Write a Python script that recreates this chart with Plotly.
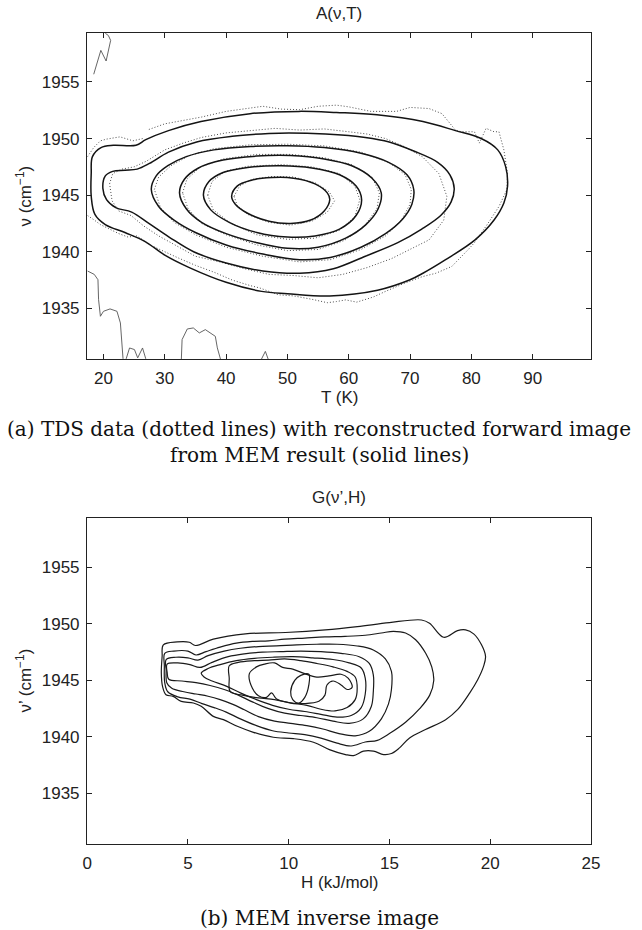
import plotly.graph_objects as go

# ---------------- data: top panel A(nu,T) ----------------
top_x_ticks = [20, 30, 40, 50, 60, 70, 80, 90]
top_y_ticks = [1935, 1940, 1945, 1950, 1955]
top_x_range = [17.34, 99.5]
top_y_range = [1930.5, 1959.35]

# solid (MEM forward image) contours
c1_T = [18.2, 19.6, 21.6, 25.3, 26.9, 30.6, 35.9, 43.9, 51.9, 58.0, 64.6, 72.1, 77.4, 81.6, 84.3, 85.6, 85.9, 85.3, 83.7, 80.6, 75.8, 72.1, 69.9, 64.7, 56.9, 50.0, 45.8, 40.0, 34.0, 30.0, 26.8, 23.5, 20.3, 18.6, 18.0, 18.0, 18.2]
c1_v = [1948.4, 1949.2, 1949.4, 1949.4, 1949.9, 1950.7, 1951.5, 1952.2, 1952.4, 1952.3, 1952.1, 1951.5, 1950.7, 1950.0, 1949.0, 1947.5, 1945.8, 1944.3, 1942.8, 1941.05, 1939.3, 1938.1, 1937.5, 1936.6, 1936.1, 1936.3, 1936.5, 1937.3, 1938.6, 1939.7, 1940.9, 1941.7, 1942.4, 1943.3, 1944.9, 1946.9, 1948.4]

c2_T = [23.5, 25.5, 27.5, 30.6, 35.2, 41.0, 47.0, 50.3, 56.2, 62.7, 66.6, 70.6, 74.5, 76.5, 77.2, 76.7, 75.0, 71.9, 68.0, 62.7, 57.5, 52.0, 46.0, 40.0, 34.7, 30.7, 27.4, 24.6, 22.0, 20.5, 19.9, 20.3, 21.5, 23.5]
c2_v = [1947.2, 1947.3, 1947.8, 1948.8, 1949.7, 1950.2, 1950.45, 1950.5, 1950.4, 1950.1, 1949.7, 1948.9, 1947.9, 1946.8, 1945.6, 1944.4, 1943.2, 1942.0, 1940.8, 1939.6, 1938.5, 1938.1, 1938.3, 1939.0, 1940.0, 1941.3, 1942.5, 1943.5, 1943.9, 1944.6, 1945.6, 1946.7, 1947.1, 1947.2]

c3_T = [27.8, 28.6, 30.5, 33.5, 38.0, 44.0, 50.0, 56.0, 62.0, 66.5, 69.5, 70.6, 70.3, 68.8, 66.0, 62.0, 57.0, 52.0, 46.0, 40.0, 35.0, 31.5, 29.0, 27.8]
c3_v = [1945.5, 1946.7, 1947.6, 1948.4, 1949.0, 1949.3, 1949.36, 1949.2, 1948.7, 1947.9, 1946.8, 1945.5, 1944.2, 1942.9, 1941.6, 1940.4, 1939.5, 1939.3, 1939.8, 1940.6, 1941.7, 1942.8, 1944.0, 1945.5]

c4_T = [32.4, 33.2, 35.5, 39.5, 45.0, 50.5, 56.0, 60.5, 63.8, 65.3, 64.8, 62.8, 59.5, 55.0, 50.0, 45.0, 40.0, 36.0, 33.5, 32.4]
c4_v = [1945.2, 1946.4, 1947.4, 1948.1, 1948.45, 1948.5, 1948.2, 1947.6, 1946.5, 1945.2, 1943.8, 1942.4, 1941.2, 1940.4, 1940.3, 1940.8, 1941.6, 1942.6, 1943.8, 1945.2]

c5_T = [36.3, 37.2, 39.5, 43.5, 49.0, 54.0, 58.5, 61.2, 62.1, 61.2, 58.5, 54.5, 50.0, 45.0, 40.5, 37.5, 36.3]
c5_v = [1945.0, 1946.2, 1947.0, 1947.45, 1947.6, 1947.4, 1946.8, 1945.8, 1944.6, 1943.2, 1942.0, 1941.4, 1941.3, 1941.7, 1942.6, 1943.7, 1945.0]

c6_T = [40.9, 41.8, 44.0, 47.5, 51.0, 54.5, 56.5, 56.9, 56.0, 53.8, 50.5, 47.0, 43.5, 41.5, 40.9]
c6_v = [1944.9, 1945.8, 1946.3, 1946.55, 1946.5, 1946.0, 1945.2, 1944.6, 1943.6, 1942.8, 1942.5, 1942.7, 1943.4, 1944.2, 1944.9]

# dotted (TDS data) contours
d1_T = [17.4, 18.4, 19.5, 20.5, 22.7, 24.8, 26.4, None, 27.4, 30.0, 33.0, 36.0, 40.0, 43.0, 46.0, 49.0, 52.0, 55.0, 58.0, 60.0, 63.6, 67.8, 70.0, 73.1, 75.2, 77.4, 78.4, 80.5, 81.3, 82.4, 83.7, 84.5, 85.3, 85.9, 85.8, 84.5, 82.7, 80.5, 79.5, 76.8, 74.2, 72.0, 69.0, 66.0, 64.0, 61.3, 59.5, 58.0, 56.5, 54.0, 51.0, 48.5, 47.0, 45.5, 44.0, 41.0, 38.0, 35.0, 32.0, 30.0, 27.6, 26.3, 25.4, 24.0, 22.5, 21.0, 19.5, 18.5, 17.4]
d1_v = [1948.4, 1949.2, 1949.8, 1949.95, 1950.15, 1949.8, 1950.0, None, 1950.8, 1951.3, 1951.6, 1951.9, 1952.4, 1952.6, 1952.85, 1952.6, 1952.55, 1952.85, 1952.95, 1952.8, 1952.4, 1952.4, 1952.75, 1952.65, 1952.2, 1950.75, 1950.6, 1950.6, 1949.6, 1950.9, 1950.6, 1950.6, 1949.0, 1946.9, 1945.5, 1944.0, 1942.5, 1940.8, 1940.2, 1938.7, 1938.1, 1937.8, 1937.2, 1936.5, 1936.0, 1935.55, 1935.75, 1935.6, 1935.5, 1935.8, 1936.1, 1936.2, 1936.5, 1936.8, 1937.0, 1937.5, 1938.2, 1938.8, 1939.5, 1940.0, 1940.6, 1941.1, 1941.4, 1941.3, 1941.6, 1942.0, 1942.4, 1942.8, 1943.2]

d2_T = [21.0, 21.5, 23.0, 25.0, 27.0, 30.0, 33.0, 36.0, 40.0, 44.0, 48.0, 52.0, 56.0, 60.0, 63.0, 66.0, 69.0, 72.0, 74.7, 76.0, 75.5, 73.1, 70.0, 67.0, 63.0, 59.0, 55.0, 51.0, 47.0, 43.0, 39.0, 35.0, 32.0, 29.0, 26.5, 24.5, 22.5, 21.4, 21.0]
d2_v = [1946.0, 1946.9, 1947.3, 1947.5, 1948.0, 1949.0, 1949.6, 1950.1, 1950.5, 1950.7, 1950.9, 1950.75, 1950.85, 1950.6, 1950.4, 1950.0, 1949.3, 1948.4, 1946.9, 1944.9, 1942.8, 1941.05, 1940.2, 1939.4, 1938.6, 1938.0, 1937.7, 1937.9, 1938.0, 1938.5, 1939.1, 1939.6, 1940.5, 1941.4, 1942.3, 1943.2, 1943.6, 1944.5, 1946.0]

d3_T = [28.3, 29.0, 31.0, 34.0, 38.0, 44.0, 50.0, 56.0, 62.0, 66.5, 69.2, 70.2, 70.0, 68.6, 66.0, 62.0, 57.0, 52.0, 46.0, 40.0, 35.0, 31.5, 29.3, 28.3]
d3_v = [1945.5, 1946.6, 1947.6, 1948.5, 1949.1, 1949.45, 1949.5, 1949.35, 1948.8, 1947.9, 1946.8, 1945.5, 1944.2, 1942.8, 1941.4, 1940.2, 1939.3, 1939.1, 1939.6, 1940.4, 1941.5, 1942.6, 1943.9, 1945.5]

d4_T = [32.9, 33.6, 35.8, 39.5, 45.0, 50.5, 56.0, 60.5, 63.8, 65.0, 64.6, 62.6, 59.3, 55.0, 50.0, 45.0, 40.0, 36.0, 33.8, 32.9]
d4_v = [1945.2, 1946.4, 1947.5, 1948.2, 1948.6, 1948.6, 1948.3, 1947.7, 1946.6, 1945.2, 1943.8, 1942.3, 1941.0, 1940.2, 1940.1, 1940.6, 1941.5, 1942.5, 1943.8, 1945.2]

d5_T = [37.0, 37.7, 39.8, 43.5, 49.0, 54.0, 58.5, 61.0, 61.8, 61.0, 58.5, 54.5, 50.0, 45.0, 40.8, 37.9, 37.0]
d5_v = [1945.0, 1946.2, 1947.1, 1947.55, 1947.7, 1947.5, 1946.9, 1945.8, 1944.6, 1943.1, 1941.9, 1941.2, 1941.1, 1941.5, 1942.5, 1943.7, 1945.0]

d6_T = [41.3, 42.2, 44.2, 47.5, 51.0, 54.5, 56.8, 57.7, 56.5, 54.0, 50.5, 47.0, 43.5, 41.8, 41.3]
d6_v = [1944.9, 1945.8, 1946.4, 1946.65, 1946.6, 1946.1, 1945.3, 1944.5, 1943.5, 1942.7, 1942.35, 1942.6, 1943.3, 1944.1, 1944.9]

# noise contours of the data near the borders
n1_T = [18.41, 19.2, 19.57, 20.43, 20.8, 21.17, 20.8, 20.3]
n1_v = [1955.68, 1957.06, 1957.79, 1956.85, 1957.8, 1958.67, 1959.1, 1959.3]
n2_T = [17.4, 18.5, 19.1, 19.2, 19.5, 20.0, 21.07, 22.2, 22.76, 22.98, 23.19]
n2_v = [1938.3, 1938.0, 1937.53, 1935.77, 1934.3, 1934.74, 1934.95, 1934.74, 1933.71, 1931.65, 1930.54]
n3_T = [23.7, 24.25, 25.05, 25.58, 26.37, 26.9]
n3_v = [1930.54, 1931.5, 1931.36, 1930.63, 1931.5, 1930.54]
n4_T = [32.7, 32.82, 33.67, 34.65, 35.63, 36.61, 38.24, 38.57, 39.09]
n4_v = [1930.5, 1932.24, 1933.18, 1933.27, 1932.83, 1933.12, 1932.53, 1931.51, 1930.5]
n5_T = [45.75, 46.4, 46.87]
n5_v = [1930.5, 1931.2, 1930.5]

# ---------------- data: bottom panel G(nu',H) ----------------
bot_x_ticks = [0, 5, 10, 15, 20, 25]
bot_y_ticks = [1935, 1940, 1945, 1950, 1955]
bot_x_range = [0, 25]
bot_y_range = [1930.5, 1959.4]

b1_H = [3.78, 4.47, 5.07, 5.37, 6.26, 7.85, 9.84, 11.82, 13.41, 15.0, 16.59, 16.99, 17.69, 18.38, 18.78, 19.18, 19.57, 19.77, 19.67, 19.38, 18.98, 18.38, 17.79, 16.79, 16.0, 15.5, 15.1, 14.71, 14.21, 13.71, 13.22, 12.82, 12.02, 11.23, 10.23, 9.24, 8.25, 7.45, 6.76, 6.26, 5.66, 5.27, 4.67, 4.27, 3.91, 3.74, 3.68, 3.72, 3.78]
b1_v = [1948.15, 1948.41, 1948.38, 1948.09, 1948.65, 1949.12, 1949.24, 1949.47, 1949.76, 1950.12, 1950.35, 1950.06, 1948.82, 1949.41, 1949.47, 1949.12, 1948.15, 1947.12, 1946.24, 1945.06, 1943.88, 1942.41, 1941.53, 1940.65, 1939.91, 1939.03, 1938.53, 1938.44, 1938.74, 1938.74, 1938.35, 1938.44, 1938.88, 1939.53, 1939.85, 1939.97, 1940.41, 1940.94, 1941.53, 1941.82, 1942.71, 1943.0, 1943.15, 1943.59, 1943.74, 1944.47, 1945.65, 1947.12, 1948.15]

b2_H = [3.85, 4.3, 5.0, 5.4, 5.9, 6.6, 7.4, 8.2, 9.0, 9.8, 10.8, 11.8, 12.8, 13.8, 14.6, 15.2, 15.8, 16.3, 16.8, 17.1, 17.2, 17.0, 16.5, 15.8, 15.0, 14.4, 13.8, 13.1, 12.4, 11.6, 10.8, 10.0, 9.2, 8.4, 7.6, 6.9, 6.3, 5.7, 5.1, 4.5, 4.0, 3.85, 3.83, 3.85]
b2_v = [1947.4, 1947.6, 1947.6, 1947.25, 1947.55, 1947.95, 1948.3, 1948.45, 1948.5, 1948.65, 1948.75, 1948.85, 1948.9, 1949.0, 1949.2, 1949.35, 1949.2, 1948.6, 1947.4, 1946.2, 1945.0, 1943.7, 1942.5, 1941.3, 1940.3, 1939.7, 1939.55, 1939.2, 1939.45, 1939.9, 1940.2, 1940.35, 1940.55, 1941.0, 1941.6, 1942.2, 1942.6, 1942.95, 1943.35, 1943.55, 1944.0, 1944.8, 1946.3, 1947.4]

b3_H = [3.92, 4.4, 5.0, 5.5, 6.0, 6.8, 7.6, 8.5, 9.4, 10.4, 11.4, 12.4, 13.4, 14.2, 14.8, 15.1, 15.1, 14.95, 14.6, 14.0, 13.3, 12.5, 11.7, 10.9, 10.1, 9.3, 8.5, 7.8, 7.2, 6.6, 6.0, 5.4, 4.8, 4.2, 3.95, 3.92, 3.92]
b3_v = [1946.85, 1947.05, 1947.0, 1946.8, 1947.2, 1947.6, 1947.85, 1948.0, 1948.05, 1948.15, 1948.2, 1948.2, 1948.05, 1947.7, 1946.9, 1945.8, 1944.2, 1942.9, 1941.6, 1940.5, 1940.1, 1940.3, 1940.7, 1941.0, 1941.2, 1941.4, 1941.8, 1942.4, 1942.9, 1943.3, 1943.6, 1943.8, 1944.0, 1944.3, 1944.8, 1945.9, 1946.85]

b4_H = [3.97, 4.5, 5.1, 5.6, 6.2, 7.0, 7.8, 8.7, 9.6, 10.6, 11.6, 12.6, 13.5, 14.0, 14.2, 14.2, 14.1, 13.7, 13.0, 12.2, 11.4, 10.6, 9.8, 9.0, 8.2, 7.5, 6.8, 6.1, 5.4, 4.7, 4.05, 3.97, 3.97]
b4_v = [1946.45, 1946.55, 1946.4, 1946.15, 1946.6, 1947.1, 1947.35, 1947.5, 1947.55, 1947.6, 1947.55, 1947.4, 1947.1, 1946.5, 1945.5, 1944.0, 1942.7, 1941.6, 1941.2, 1941.4, 1941.7, 1941.9, 1942.1, 1942.5, 1943.1, 1943.7, 1944.2, 1944.55, 1944.8, 1944.95, 1945.1, 1945.7, 1946.45]

b5_H = [5.66, 6.0, 6.6, 7.4, 8.3, 9.2, 10.2, 11.2, 12.2, 13.0, 13.6, 13.8, 13.8, 13.6, 13.1, 12.4, 11.6, 10.8, 10.0, 9.2, 8.4, 7.6, 6.9, 6.2, 5.8, 5.66]
b5_v = [1945.65, 1946.05, 1946.4, 1946.75, 1946.95, 1947.05, 1947.1, 1947.0, 1946.85, 1946.55, 1946.1, 1945.2, 1943.8, 1942.6, 1941.9, 1941.75, 1942.0, 1942.25, 1942.45, 1942.8, 1943.3, 1943.9, 1944.5, 1944.95, 1945.3, 1945.65]

b6_H = [7.05, 7.5, 8.3, 9.0, 9.8, 10.6, 11.4, 12.2, 12.9, 13.3, 13.4, 13.3, 12.9, 12.3, 11.6, 10.9, 10.1, 9.3, 8.5, 7.7, 7.1, 7.05, 7.05]
b6_v = [1946.3, 1946.6, 1946.75, 1946.8, 1946.9, 1946.75, 1946.5, 1946.2, 1945.8, 1945.3, 1944.3, 1943.3, 1942.6, 1942.3, 1942.45, 1942.8, 1943.0, 1943.3, 1943.45, 1943.7, 1944.0, 1945.2, 1946.3]

b7_H = [8.05, 8.4, 8.8, 9.3, 9.7, 10.2, 10.8, 11.4, 12.0, 12.6, 12.95, 13.15, 12.9, 12.6, 12.2, 11.9, 11.8, 11.5, 10.8, 10.0, 9.4, 9.15, 8.9, 8.5, 8.2, 8.05]
b7_v = [1945.6, 1946.2, 1946.45, 1946.55, 1946.15, 1946.0, 1945.6, 1945.3, 1945.4, 1945.55, 1945.2, 1944.4, 1944.2, 1944.6, 1944.95, 1944.6, 1943.7, 1943.15, 1942.95, 1943.05, 1943.35, 1943.9, 1943.5, 1943.65, 1944.3, 1945.6]

b8_H = [10.1, 10.3, 10.6, 11.0, 11.0, 10.8, 10.5, 10.2, 10.1]
b8_v = [1944.0, 1945.0, 1945.45, 1945.55, 1944.6, 1943.5, 1943.0, 1943.3, 1944.0]

# ---------------- figure ----------------
W, H = 642, 930
fig = go.Figure()

solid_top = dict(color="#141414", width=1.5)
dot_top = dict(color="#4d4d4d", width=1.0, dash="1px,2px")
noise_top = dict(color="#555555", width=0.9)

def add(x, y, line, xa="x", ya="y", shape="linear"):
    fig.add_trace(go.Scatter(x=x, y=y, mode="lines", line=dict(**line, shape=shape),
                             xaxis=xa, yaxis=ya, hoverinfo="skip", showlegend=False,
                             connectgaps=False))

for tx, vy in [(d1_T, d1_v), (d2_T, d2_v), (d3_T, d3_v), (d4_T, d4_v), (d5_T, d5_v), (d6_T, d6_v)]:
    add(tx, vy, dot_top)
for tx, vy in [(n1_T, n1_v), (n2_T, n2_v), (n3_T, n3_v), (n4_T, n4_v), (n5_T, n5_v)]:
    add(tx, vy, noise_top)
for tx, vy in [(c1_T, c1_v), (c2_T, c2_v), (c3_T, c3_v), (c4_T, c4_v), (c5_T, c5_v), (c6_T, c6_v)]:
    add(tx, vy, solid_top, shape="spline")

solid_bot = dict(color="#1a1a1a", width=1.2)
for hx, vy in [(b1_H, b1_v), (b2_H, b2_v), (b3_H, b3_v), (b4_H, b4_v), (b5_H, b5_v),
               (b6_H, b6_v), (b7_H, b7_v), (b8_H, b8_v)]:
    add(hx, vy, solid_bot, xa="x2", ya="y2", shape="spline")

tickfont = dict(family="Liberation Sans, Arial, sans-serif", size=17, color="#222")
ax_common = dict(showline=True, linecolor="#222", linewidth=1.4, mirror="ticks",
                 ticks="inside", ticklen=5, tickwidth=1, tickcolor="#222",
                 showgrid=False, zeroline=False, tickfont=tickfont)

x0, x1 = 84 / W, 599 / W
fig.update_layout(
    width=W, height=H, margin=dict(l=0, r=0, t=0, b=0),
    paper_bgcolor="white", plot_bgcolor="white",
    xaxis=dict(domain=[x0, x1], range=top_x_range, tickvals=top_x_ticks, anchor="y",
               ticklabelstandoff=3, **ax_common),
    yaxis=dict(domain=[1 - 359.3 / H, 1 - 32.7 / H], range=top_y_range, tickvals=top_y_ticks,
               anchor="x", ticklabelstandoff=3, **ax_common),
    xaxis2=dict(domain=[x0, x1], range=bot_x_range, tickvals=bot_x_ticks, anchor="y2",
                ticklabelstandoff=3, **ax_common),
    yaxis2=dict(domain=[1 - 844.3 / H, 1 - 517.7 / H], range=bot_y_range, tickvals=bot_y_ticks,
                anchor="x2", ticklabelstandoff=3, **ax_common),
)

sans = dict(family="Liberation Sans, Arial, sans-serif", size=17, color="#222")
serif = dict(family="DejaVu Serif, serif", size=20, color="#111")

def note(text, x, y, font, angle=0):
    fig.add_annotation(text=text, x=x / W, y=1 - y / H, xref="paper", yref="paper",
                       showarrow=False, font=font, textangle=angle,
                       xanchor="center", yanchor="middle")

cx = (84 + 599) / 2
note("A(ν,T)", cx, 13, sans)
note("T (K)", cx, 397, sans)
note("ν (cm<sup>−1</sup>)", 19, 196, sans, angle=-90)
note("(a) TDS data (dotted lines) with reconstructed forward image", 321, 429, serif)
note("from MEM result (solid lines)", 321, 455, serif)
note("G(ν’,H)", cx, 497, sans)
note("H (kJ/mol)", cx, 882, sans)
note("ν’ (cm<sup>−1</sup>)", 19, 681, sans, angle=-90)
note("(b) MEM inverse image", 321, 918, serif)

fig.write_html("out.html")
